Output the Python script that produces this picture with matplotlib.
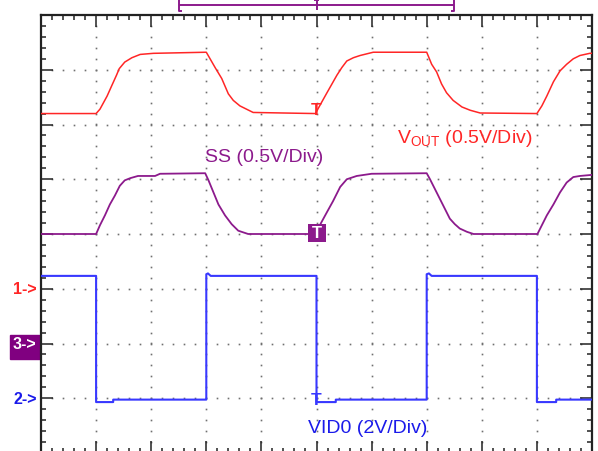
import numpy as np
import matplotlib.pyplot as plt
from matplotlib.ticker import MultipleLocator
from matplotlib.patches import Rectangle

plt.rcParams['font.family'] = ['Liberation Sans', 'DejaVu Sans']

# time in screen divisions (10 div across the graticule)
t_vout = [0.0, 1.0, 1.07, 1.20, 1.28, 1.37, 1.42, 1.52, 1.65, 1.80, 2.04, 3.0,
          3.16, 3.28, 3.40, 3.49, 3.61, 3.73, 3.85, 4.40, 4.98,
          5.09, 5.19, 5.28, 5.37, 5.46, 5.55, 5.67, 5.79, 6.03, 7.0,
          7.09, 7.18, 7.27, 7.36, 7.48, 7.64, 7.79, 7.97, 9.0,
          9.09, 9.18, 9.30, 9.42, 9.54, 9.66, 9.78, 9.96, 10.0]
vout = [1.60, 1.60, 1.64, 1.76, 1.85, 1.95, 2.01, 2.07, 2.11, 2.14, 2.15, 2.16,
        2.02, 1.92, 1.78, 1.72, 1.67, 1.64, 1.61, 1.605, 1.60,
        1.70, 1.79, 1.87, 1.95, 2.02, 2.08, 2.11, 2.13, 2.16, 2.16,
        2.05, 1.98, 1.87, 1.79, 1.72, 1.66, 1.63, 1.605, 1.60,
        1.67, 1.76, 1.89, 1.99, 2.05, 2.10, 2.13, 2.15, 2.15]

t_ss = [0.0, 1.0, 1.07, 1.16, 1.25, 1.34, 1.43, 1.52, 1.62, 1.76, 2.07, 2.16, 2.98,
        3.04, 3.13, 3.22, 3.34, 3.46, 3.58, 3.76, 4.99,
        5.06, 5.19, 5.30, 5.43, 5.55, 5.73, 6.0, 7.0,
        7.06, 7.12, 7.21, 7.30, 7.42, 7.51, 7.60, 7.73, 7.85, 9.01,
        9.09, 9.18, 9.30, 9.42, 9.54, 9.66, 9.78, 10.0]
ss = [1.00, 1.00, 1.08, 1.17, 1.27, 1.35, 1.44, 1.49, 1.51, 1.53, 1.53, 1.55, 1.555,
      1.49, 1.38, 1.27, 1.17, 1.09, 1.03, 1.00, 1.00,
      1.08, 1.20, 1.30, 1.43, 1.50, 1.53, 1.55, 1.555,
      1.50, 1.44, 1.35, 1.26, 1.14, 1.09, 1.05, 1.02, 1.00, 1.00,
      1.08, 1.17, 1.27, 1.38, 1.47, 1.52, 1.53, 1.54]

t_vid = [0.0, 1.0, 1.0, 1.31, 1.31, 3.0, 3.0, 3.03, 3.08, 5.0, 5.0, 5.35, 5.35,
         7.0, 7.0, 7.04, 7.09, 9.0, 9.0, 9.35, 9.35, 10.0]
vid0 = [4.47, 4.47, -0.14, -0.14, -0.05, -0.05, 4.53, 4.56, 4.47, 4.47, -0.14, -0.14, -0.05,
        -0.05, 4.53, 4.56, 4.47, 4.47, -0.14, -0.14, -0.05, -0.05]

# channel settings: volts/div and ground marker position (div from centre)
VOUT_SCALE, VOUT_GND = 0.5, -1.0
VID_SCALE, VID_GND = 2.0, -3.0
SS_SCALE, SS_GND = 0.5, -2.0

T_TRIG = 5.0
WINDOW = (2.5, 7.5)

RED = '#FF2626'
BLUE = '#3838FF'
BLUE_TXT = '#1A1AEA'
PURPLE = '#8C1A8C'


def to_div(v, scale, gnd):
    return np.asarray(v) / scale + gnd


fig = plt.figure(figsize=(5.98, 4.52), dpi=100)
ax = fig.add_axes([41 / 598, 1 - 454 / 452, 551 / 598, 438 / 452])
ax.set_xlim(0, 10)
ax.set_ylim(-4, 4)

# graticule dots
for gx in range(1, 10):
    ys = np.arange(-3.8, 3.81, 0.2)
    ax.plot(np.full_like(ys, gx), ys, ls='none', marker='s', ms=1.2,
            color='#707070', mew=0, zorder=1)
for gy in range(-3, 4):
    xs = np.arange(0.2, 9.81, 0.2)
    ax.plot(xs, np.full_like(xs, gy), ls='none', marker='s', ms=1.2,
            color='#707070', mew=0, zorder=1)

ax.xaxis.set_major_locator(MultipleLocator(1))
ax.xaxis.set_minor_locator(MultipleLocator(0.2))
ax.yaxis.set_major_locator(MultipleLocator(1))
ax.yaxis.set_minor_locator(MultipleLocator(0.2))
ax.tick_params(which='both', direction='in', top=True, right=True,
               labelbottom=False, labelleft=False, color='#222222', width=1.1)
ax.tick_params(which='major', length=8.5)
ax.tick_params(which='minor', length=3.8)
for sp in ax.spines.values():
    sp.set_color('#222222')
    sp.set_linewidth(1.6)

# traces
vout_d = to_div(vout, VOUT_SCALE, VOUT_GND)
ss_d = to_div(ss, SS_SCALE, SS_GND)
vid_d = to_div(vid0, VID_SCALE, VID_GND)
ax.plot(t_vout, vout_d, color=RED, lw=1.1, zorder=3)
ax.plot(t_ss, ss_d, color=PURPLE, lw=1.3, zorder=3)
ax.plot(t_vid, vid_d, color=BLUE, lw=1.5, zorder=3)

# trigger markers on each trace
ax.text(T_TRIG, np.interp(T_TRIG - 0.03, t_vout, vout_d) + 0.08, 'T', color=RED,
        fontsize=12.5, fontweight='bold', ha='center', va='center', zorder=4)
ax.text(T_TRIG, np.interp(T_TRIG + 0.1, t_vid, vid_d) + 0.04, 'T', color=BLUE,
        fontsize=12.5, fontweight='bold', ha='center', va='center', zorder=4)
ss_trig = np.interp(T_TRIG, t_ss, ss_d)
ax.plot(T_TRIG, ss_trig, marker='s', ms=13, color=PURPLE, mew=0, zorder=4)
ax.text(T_TRIG, ss_trig, 'T', color='white', fontsize=12, fontweight='bold',
        ha='center', va='center', zorder=5)

# channel labels
ax.text(2.97, 1.34, 'SS (0.5V/Div)', color=PURPLE, fontsize=14,
        ha='left', va='baseline')
ax.text(6.47, 1.675, r'$\mathregular{V_{OUT}}$ (0.5V/Div)', color=RED, fontsize=14,
        ha='left', va='baseline')
ax.text(4.85, -3.62, 'VID0 (2V/Div)', color=BLUE_TXT, fontsize=14,
        ha='left', va='baseline')

# ground reference markers left of the graticule
ax.text(-0.08, VOUT_GND, '1->', color=RED, fontsize=11.5, fontweight='bold',
        ha='right', va='center', clip_on=False)
ax.text(-0.08, VID_GND, '2->', color=BLUE_TXT, fontsize=11.5, fontweight='bold',
        ha='right', va='center', clip_on=False)
ax.add_patch(Rectangle((-0.56, SS_GND - 0.28), 0.55, 0.44, color='#800080',
                       clip_on=False, zorder=2))
ax.text(-0.08, SS_GND, '3->', color='white', fontsize=11.5, fontweight='bold',
        ha='right', va='center', clip_on=False, zorder=3)

# record window bracket above the graticule
yb, ytop, ybot = 4.18, 4.30, 4.07
kw = dict(color=PURPLE, lw=1.4, clip_on=False, solid_capstyle='butt')
ax.plot(WINDOW, [yb, yb], **kw)
ax.plot([WINDOW[0] + 0.06, WINDOW[0], WINDOW[0], WINDOW[0] + 0.06],
        [ytop, ytop, ybot, ybot], **kw)
ax.plot([WINDOW[1] - 0.06, WINDOW[1], WINDOW[1], WINDOW[1] - 0.06],
        [ytop, ytop, ybot, ybot], **kw)
ax.plot([T_TRIG, T_TRIG], [ytop, 4.09], **kw)
ax.plot([T_TRIG - 0.05, T_TRIG + 0.05], [4.28, 4.28], **kw)

fig.savefig('out.png', dpi=100, facecolor='white')
